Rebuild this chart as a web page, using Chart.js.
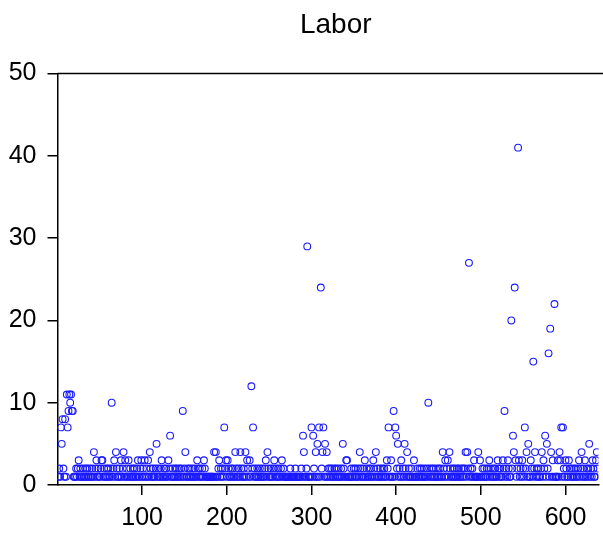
<!DOCTYPE html>
<html>
<head>
<meta charset="utf-8">
<script src="https://cdn.jsdelivr.net/npm/chart.js@4.4.1/dist/chart.umd.min.js"></script>
<style>
  html, body { margin: 0; padding: 0; background: #fff; }
  #wrap { width: 603px; height: 533px; }
</style>
</head>
<body>
<div id="wrap"><canvas id="laborChart" width="603" height="533"></canvas></div>
<script>
const chartTitle = 'Labor';

const labor = [
  1,2,1,7,5,8,2,1,8,1,11,7,9,11,10,11,9,9,1,1,
  1,2,1,2,3,1,2,1,1,2,1,1,2,1,2,1,1,2,1,1,
  2,1,4,1,2,3,1,2,1,1,2,3,3,1,2,1,1,2,1,2,
  1,1,2,10,1,2,3,1,4,2,1,1,2,1,3,1,2,4,1,3,
  1,2,1,3,1,2,1,1,2,1,2,1,1,2,3,1,1,2,3,1,
  2,1,3,1,2,1,3,1,4,2,1,1,2,1,1,2,5,1,2,1,
  1,2,3,1,1,2,1,2,1,1,3,2,6,1,1,2,1,1,2,1,
  2,1,1,2,1,2,1,9,1,2,4,1,1,2,1,2,1,1,2,1,
  1,2,1,1,3,2,1,2,1,1,2,1,3,2,1,1,1,1,1,1,
  1,1,1,1,4,1,4,1,1,2,3,1,2,1,2,1,7,2,3,1,
  3,2,1,1,2,1,2,1,1,4,2,1,1,2,1,4,2,1,1,2,
  1,4,1,3,2,1,3,1,12,2,7,1,2,1,1,2,1,1,2,1,
  1,2,1,1,2,3,1,4,2,1,1,2,1,1,2,3,1,2,1,1,
  2,1,1,2,3,1,2,1,1,1,1,1,1,1,2,1,1,1,1,1,
  2,1,1,1,1,1,1,2,1,6,4,1,1,2,29,1,1,1,1,7,
  1,6,2,1,4,1,5,1,7,1,24,2,4,7,1,5,1,4,1,2,
  1,2,1,2,1,1,2,1,2,1,1,2,1,1,2,1,5,2,1,1,
  3,3,1,1,1,1,2,1,1,2,1,2,1,1,2,1,4,2,1,1,
  2,1,3,1,2,1,1,2,1,2,1,1,3,2,1,4,1,2,1,1,
  2,1,1,2,1,2,1,1,3,2,7,1,1,3,1,1,9,1,7,6,
  2,5,1,2,1,3,1,2,1,5,2,1,4,1,2,1,1,2,1,1,
  3,1,1,1,2,1,1,2,1,2,1,1,2,1,1,2,1,10,2,1,
  1,2,1,2,1,1,2,1,1,2,1,2,1,1,4,2,1,3,1,2,
  3,1,4,2,1,1,2,1,2,1,1,2,1,2,1,1,2,1,2,1,
  2,4,1,4,2,27,1,2,1,2,1,3,1,1,1,1,4,1,3,1,
  1,2,1,2,1,1,2,1,2,3,1,2,1,1,2,1,2,1,1,3,
  2,1,2,1,1,3,2,9,1,2,1,3,2,1,1,20,2,6,4,24,
  3,1,2,41,3,1,2,1,3,2,1,7,2,4,1,5,1,1,3,2,
  1,15,2,4,1,2,1,2,1,1,2,4,1,3,2,6,1,5,2,16,
  1,19,4,1,3,1,22,1,1,1,3,1,4,3,7,1,7,2,1,3,
  2,1,1,3,2,1,2,1,1,2,1,2,1,1,2,3,1,2,4,1,
  2,1,3,1,2,1,2,5,1,2,1,3,2,1,1,3,4,2
];

const xTicks = [100, 200, 300, 400, 500, 600];
const yTicks = [0, 10, 20, 30, 40, 50];
const xMin = 0;
const xMax = 639;

const points = labor.map((v, i) => ({ x: i + 1, y: v }));

const fontFamily = '"Liberation Sans", Arial, sans-serif';

// top frame line (the reference has a box top, right side is cropped)
const frameTop = {
  id: 'frameTop',
  afterDraw(chart) {
    const { ctx, chartArea } = chart;
    ctx.save();
    ctx.strokeStyle = '#000';
    ctx.lineWidth = 1.5;
    ctx.beginPath();
    ctx.moveTo(chartArea.left, chartArea.top);
    ctx.lineTo(chart.width, chartArea.top);
    ctx.stroke();
    ctx.restore();
  }
};

new Chart(document.getElementById('laborChart').getContext('2d'), {
  type: 'scatter',
  data: {
    datasets: [{
      label: chartTitle,
      data: points,
      borderColor: '#1a1aff',
      backgroundColor: 'transparent',
      borderWidth: 1.1,
      pointRadius: 3.4,
      pointHoverRadius: 3.4
    }]
  },
  options: {
    responsive: false,
    animation: false,
    layout: { padding: { left: 0, right: 0, top: 0, bottom: 0 } },
    plugins: {
      legend: { display: false },
      tooltip: { enabled: false },
      title: {
        display: true,
        text: '  ' + chartTitle,
        fullSize: false,
        color: '#000',
        font: { family: fontFamily, size: 28, weight: 'normal' },
        padding: { top: 8, bottom: 32 }
      }
    },
    scales: {
      x: {
        type: 'linear',
        min: xMin,
        max: xMax,
        afterBuildTicks: s => { s.ticks = xTicks.map(v => ({ value: v })); },
        afterFit: s => { s.height = 48; },
        border: { display: true, color: '#000', width: 1.5 },
        grid: { drawOnChartArea: false, drawTicks: true, tickLength: 10, color: '#000', lineWidth: 1.5 },
        ticks: {
          color: '#000',
          padding: 8,
          maxRotation: 0,
          font: { family: fontFamily, size: 25 }
        }
      },
      y: {
        min: 0,
        max: 50,
        afterBuildTicks: s => { s.ticks = yTicks.map(v => ({ value: v })); },
        afterFit: s => { s.width = 57.5; },
        border: { display: true, color: '#000', width: 1.5 },
        grid: { drawOnChartArea: false, drawTicks: true, tickLength: 10, color: '#000', lineWidth: 1.5 },
        ticks: {
          color: '#000',
          padding: 11,
          font: { family: fontFamily, size: 25 }
        }
      }
    }
  },
  plugins: [frameTop]
});
</script>
</body>
</html>
